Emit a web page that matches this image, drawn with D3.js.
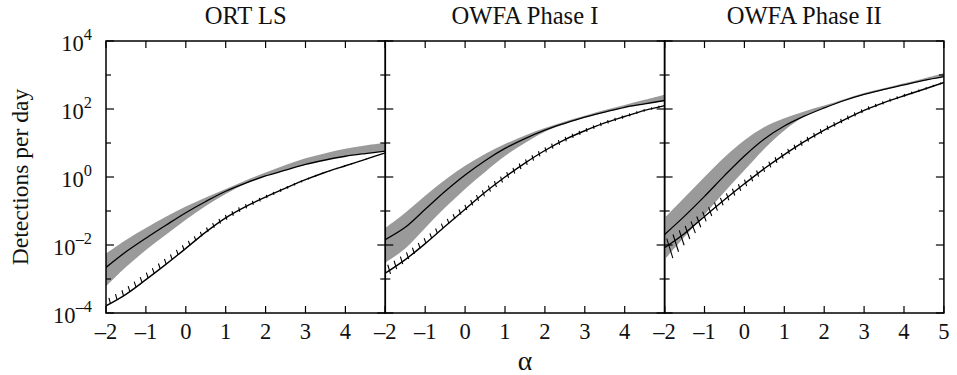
<!DOCTYPE html>
<html>
<head>
<meta charset="utf-8">
<script src="https://cdn.jsdelivr.net/npm/d3@7"></script>
<style>
  html, body { margin: 0; padding: 0; background: #fff; }
</style>
</head>
<body>
<svg id="chart" width="957" height="375" style='font-family: "Liberation Serif", "Times New Roman", Tinos, "DejaVu Serif", serif'></svg>
<script>
// ---------------- data (log10 of detections per day) ----------------
const alphas = [-2, -1.5, -1, -0.5, 0, 0.5, 1, 1.5, 2, 2.5, 3, 3.5, 4, 4.5, 5];
const panelTitles = ["ORT LS", "OWFA Phase I", "OWFA Phase II"];
const yTickExponents = [-4, -3, -2, -1, 0, 1, 2, 3, 4];
const xTickValues = [-2, -1, 0, 1, 2, 3, 4, 5];

const ortSolid   = [-2.66, -2.2, -1.8, -1.42, -1.05, -0.72, -0.42, -0.18, 0.03, 0.2, 0.37, 0.5, 0.61, 0.69, 0.76];
const ortBandHi  = [-2.25, -1.85, -1.5, -1.17, -0.87, -0.6, -0.35, -0.1, 0.13, 0.35, 0.55, 0.7, 0.83, 0.93, 1.0];
const ortBandLo  = [-3.22, -2.65, -2.15, -1.7, -1.26, -0.85, -0.5, -0.2, 0.03, 0.2, 0.37, 0.5, 0.61, 0.69, 0.76];
const ortHatch   = [-3.79, -3.45, -3.02, -2.57, -2.1, -1.62, -1.2, -0.87, -0.59, -0.33, -0.08, 0.14, 0.33, 0.52, 0.71];
const ortErrUp   = [0.17, 0.17, 0.17, 0.16, 0.14, 0.1, 0.08, 0.07, 0.05, 0.04, 0.03, 0.02, 0.02, 0.015, 0.01];
const ortErrDn   = [0, 0, 0, 0, 0, 0.04, 0.07, 0.06, 0.05, 0.04, 0.03, 0.02, 0.02, 0.015, 0.01];

const owfa1Solid  = [-1.84, -1.48, -0.95, -0.42, 0.06, 0.48, 0.84, 1.13, 1.38, 1.58, 1.76, 1.91, 2.05, 2.15, 2.25];
const owfa1BandHi = [-1.5, -1.05, -0.55, -0.08, 0.33, 0.68, 0.97, 1.22, 1.44, 1.63, 1.8, 1.97, 2.12, 2.27, 2.42];
const owfa1BandLo = [-2.52, -2.1, -1.5, -0.9, -0.35, 0.15, 0.62, 1.0, 1.33, 1.56, 1.74, 1.9, 2.03, 2.14, 2.24];
const owfa1Hatch  = [-2.83, -2.43, -1.96, -1.45, -0.95, -0.45, 0.0, 0.41, 0.78, 1.1, 1.36, 1.59, 1.78, 1.96, 2.1];
const owfa1ErrUp  = [0.18, 0.16, 0.15, 0.14, 0.11, 0.1, 0.09, 0.085, 0.08, 0.07, 0.06, 0.05, 0.045, 0.04, 0.03];
const owfa1ErrDn  = [0.12, 0.06, 0, 0, 0.05, 0.09, 0.09, 0.085, 0.075, 0.065, 0.055, 0.05, 0.045, 0.035, 0.03];

const owfa2Solid  = [-1.69, -1.15, -0.57, 0.04, 0.62, 1.12, 1.5, 1.79, 2.03, 2.25, 2.43, 2.58, 2.71, 2.84, 2.95];
const owfa2BandHi = [-1.2, -0.6, 0.0, 0.58, 1.08, 1.47, 1.73, 1.93, 2.1, 2.29, 2.47, 2.61, 2.76, 2.9, 3.05];
const owfa2BandLo = [-2.43, -1.76, -1.11, -0.44, 0.2, 0.83, 1.37, 1.78, 2.03, 2.23, 2.42, 2.56, 2.7, 2.83, 2.95];
const owfa2Hatch  = [-2.08, -1.66, -1.16, -0.67, -0.2, 0.25, 0.66, 1.04, 1.38, 1.68, 1.96, 2.19, 2.39, 2.58, 2.78];
const owfa2ErrUp  = [0.2, 0.17, 0.15, 0.12, 0.1, 0.09, 0.09, 0.08, 0.08, 0.07, 0.06, 0.05, 0.05, 0.04, 0.03];
const owfa2ErrDn  = [0.45, 0.25, 0.15, 0.1, 0.1, 0.09, 0.08, 0.07, 0.06, 0.05, 0.05, 0.04, 0.03, 0.03, 0.02];

const panelData = [
  {solid: ortSolid, hi: ortBandHi, lo: ortBandLo, hatch: ortHatch, up: ortErrUp, dn: ortErrDn, lastLabel: 4},
  {solid: owfa1Solid, hi: owfa1BandHi, lo: owfa1BandLo, hatch: owfa1Hatch, up: owfa1ErrUp, dn: owfa1ErrDn, lastLabel: 4},
  {solid: owfa2Solid, hi: owfa2BandHi, lo: owfa2BandLo, hatch: owfa2Hatch, up: owfa2ErrUp, dn: owfa2ErrDn, lastLabel: 5}
];

// ---------------- layout ----------------
const FONT = '"Liberation Serif", "Times New Roman", Tinos, "DejaVu Serif", serif';
const mLeft = 106, mTop = 41, plotH = 272, panelW = 279.3;
const svg = d3.select("#chart");

function addText(parent) {
  return parent.append("text").attr("font-family", FONT).style("font-family", FONT).attr("fill", "#111");
}

// scale font sizes so that the title width matches the reference (~147 px for "OWFA Phase I")
const probe = addText(svg).attr("font-size", 24).text("OWFA Phase I");
const probeW = probe.node().getComputedTextLength() || 147;
probe.remove();
const fk = Math.max(0.95, Math.min(1.25, 147 / probeW));
const fs = v => v * fk;

const y = d3.scaleLog().domain([1e-4, 1e4]).range([mTop + plotH, mTop]);
const pxPerDecade = y(1) - y(10);
const pow10 = v => Math.pow(10, v);
const fmtMinus = v => (v < 0 ? "\u2013" + Math.abs(v) : String(v));
const curve = d3.curveCatmullRom.alpha(0.5);

panelData.forEach((pd, i) => {
  const x0 = mLeft + i * panelW;
  const x = d3.scaleLinear().domain([-2, 5]).range([x0, x0 + panelW]);
  const g = svg.append("g");

  const clipId = "clip" + i;
  svg.append("clipPath").attr("id", clipId).append("rect")
    .attr("x", x0).attr("y", mTop).attr("width", panelW).attr("height", plotH);
  const plot = g.append("g").attr("clip-path", `url(#${clipId})`);

  const rows = alphas.map((a, k) => ({a, solid: pd.solid[k], hi: pd.hi[k], lo: pd.lo[k], hatch: pd.hatch[k]}));

  // band
  plot.append("path")
    .datum(rows)
    .attr("fill", "#9a9a9a")
    .attr("d", d3.area().curve(curve)
      .x(d => x(d.a)).y0(d => y(pow10(d.lo))).y1(d => y(pow10(d.hi))));

  // solid line
  plot.append("path")
    .datum(rows)
    .attr("fill", "none").attr("stroke", "#000").attr("stroke-width", 1.3)
    .attr("d", d3.line().curve(curve).x(d => x(d.a)).y(d => y(pow10(d.solid))));

  // hatched line
  const hp = plot.append("path")
    .datum(rows)
    .attr("fill", "none").attr("stroke", "#000").attr("stroke-width", 1.4)
    .attr("d", d3.line().curve(curve).x(d => x(d.a)).y(d => y(pow10(d.hatch))));

  const errUp = d3.scaleLinear().domain(alphas).range(pd.up).clamp(true);
  const errDn = d3.scaleLinear().domain(alphas).range(pd.dn).clamp(true);
  const node = hp.node();
  const total = node.getTotalLength();
  const spacing = 7.6;
  for (let s = 5; s < total - 1; s += spacing) {
    const p = node.getPointAtLength(s);
    const p1 = node.getPointAtLength(Math.max(0, s - 1.5));
    const p2 = node.getPointAtLength(Math.min(total, s + 1.5));
    let tx = p2.x - p1.x, ty = p2.y - p1.y;
    const tl = Math.hypot(tx, ty) || 1;
    tx /= tl; ty /= tl;
    // blend of the normal (up-left) and the vertical direction
    let nx = ty, ny = -tx - 1;
    const nl = Math.hypot(nx, ny) || 1;
    nx /= nl; ny /= nl;
    const a = x.invert(p.x);
    const u = errUp(a) * pxPerDecade, dd = errDn(a) * pxPerDecade;
    if (u + dd < 0.8) continue;
    plot.append("line")
      .attr("x1", p.x - nx * dd).attr("y1", p.y - ny * dd)
      .attr("x2", p.x + nx * u).attr("y2", p.y + ny * u)
      .attr("stroke", "#000").attr("stroke-width", 1.1);
  }

  // frame
  g.append("rect").attr("x", x0).attr("y", mTop).attr("width", panelW).attr("height", plotH)
    .attr("fill", "none").attr("stroke", "#000").attr("stroke-width", 1.5);

  // x ticks (bottom & top)
  xTickValues.forEach(v => {
    const px = x(v);
    g.append("line").attr("x1", px).attr("x2", px).attr("y1", mTop + plotH).attr("y2", mTop + plotH - 7)
      .attr("stroke", "#000").attr("stroke-width", 1.2);
    g.append("line").attr("x1", px).attr("x2", px).attr("y1", mTop).attr("y2", mTop + 7)
      .attr("stroke", "#000").attr("stroke-width", 1.2);
    if (v <= pd.lastLabel) {
      addText(g).attr("x", px).attr("y", mTop + plotH + 26)
        .attr("text-anchor", "middle").attr("font-size", fs(22))
        .text(fmtMinus(v));
    }
  });

  // y ticks (left & right)
  yTickExponents.forEach(e => {
    const py = y(pow10(e));
    const len = (e % 2 === 0) ? 8 : 5;
    g.append("line").attr("x1", x0).attr("x2", x0 + len).attr("y1", py).attr("y2", py)
      .attr("stroke", "#000").attr("stroke-width", 1.2);
    g.append("line").attr("x1", x0 + panelW).attr("x2", x0 + panelW - len).attr("y1", py).attr("y2", py)
      .attr("stroke", "#000").attr("stroke-width", 1.2);
  });

  // title
  addText(g).attr("x", x0 + panelW / 2).attr("y", 24)
    .attr("text-anchor", "middle").attr("font-size", fs(24))
    .text(panelTitles[i]);
});

// y tick labels (first panel only)
yTickExponents.filter(e => e % 2 === 0).forEach(e => {
  const py = y(pow10(e));
  const t = addText(svg).attr("x", 92).attr("y", py + 10).attr("text-anchor", "end");
  t.append("tspan").attr("font-size", fs(22)).text("10");
  t.append("tspan").attr("font-size", fs(16)).attr("dy", -11).text(fmtMinus(e));
});

// axis labels
addText(svg)
  .attr("transform", `translate(28, ${mTop + plotH / 2}) rotate(-90)`)
  .attr("text-anchor", "middle").attr("font-size", fs(23))
  .text("Detections per day");

addText(svg).attr("x", mLeft + 1.5 * panelW).attr("y", 370)
  .attr("text-anchor", "middle").attr("font-size", fs(27))
  .text("α");
</script>
</body>
</html>
